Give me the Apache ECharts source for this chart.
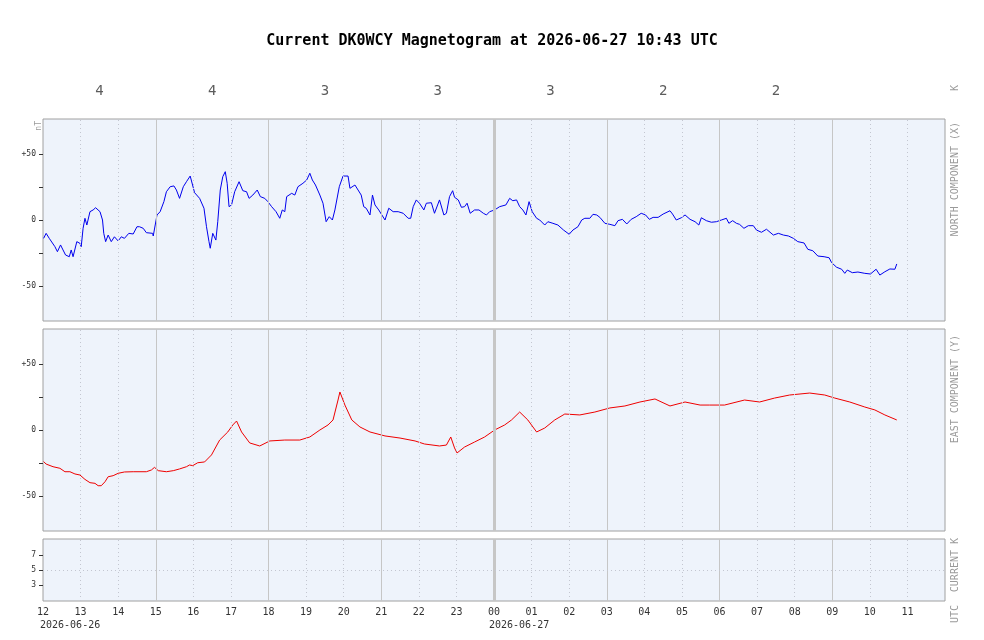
<!DOCTYPE html>
<html>
<head>
<meta charset="utf-8">
<title>DK0WCY Magnetogram</title>
<script src="https://cdn.jsdelivr.net/npm/echarts@6/dist/echarts.min.js"></script>
<style>
  html, body { margin: 0; padding: 0; background: #fff; }
  #chart { width: 984px; height: 640px; }
</style>
</head>
<body>
<div id="chart"></div>
<script>
// minutes after 2026-06-26 12:00 UTC
const northMin = [1,5,10,13,19,23,28,32,36,42,45,48,54,59,61,64,67,70,75,80,84,91,95,97,100,104,109,114,120,125,130,137,144,150,154,160,165,175,176,182,187,193,197,203,209,213,218,224,229,235,242,250,257,261,265,267,271,276,279,283,287,291,294,297,301,306,313,319,325,329,335,342,347,354,359,365,372,378,382,386,389,397,402,407,415,421,426,430,435,442,447,452,457,462,466,473,479,487,490,498,503,508,512,516,522,526,530,536,546,552,559,567,575,583,587,591,596,601,608,612,620,625,633,640,644,649,654,657,663,668,673,677,682,689,696,703,708,713,721,729,739,745,748,750,756,761,766,771,776,781,788,793,801,806,814,822,831,840,846,854,860,865,873,878,884,889,897,905,913,918,925,932,939,947,955,962,968,974,982,990,1001,1005,1011,1019,1025,1033,1041,1047,1051,1059,1067,1075,1083,1091,1095,1101,1107,1112,1119,1126,1134,1139,1147,1155,1166,1174,1182,1190,1198,1205,1215,1221,1229,1237,1247,1255,1259,1267,1275,1280,1284,1292,1301,1312,1321,1330,1336,1344,1352,1360,1363];
const northVal = [-13.9,-10.1,-13.9,-15.2,-20.2,-24.0,-18.9,-22.7,-26.5,-27.8,-22.7,-27.8,-16.4,-17.7,-20.2,-6.3,1.3,-3.8,6.3,7.6,9.3,6.3,0,-10.1,-16.4,-11.4,-16.4,-12.7,-15.9,-12.7,-13.9,-10.1,-10.6,-5.1,-5.1,-6.3,-9.6,-10.1,-12.1,3.8,6.3,13.9,21.4,25.2,25.8,22.7,16.4,25.2,29.0,33.3,20.7,16.4,8.9,-5.1,-16.4,-21.4,-10.1,-15.2,-1.3,22.7,32.8,36.6,27.8,10.1,11.4,21.4,29.0,22.2,21.4,16.4,18.9,22.7,17.7,16.4,13.9,10.1,6.3,1.3,7.6,6.3,17.7,20.2,18.9,25.2,27.8,30.3,35.4,30.3,26.5,18.9,12.7,-1.3,2.5,0,7.6,25.2,33.3,33.3,24.0,26.5,22.7,18.9,10.1,8.9,3.8,18.9,11.4,7.6,0,8.9,6.3,6.3,5.1,1.3,1.3,10.1,15.2,12.7,7.6,12.7,13.1,5.1,15.2,3.8,5.1,17.7,22.2,17.2,15.2,9.6,10.1,12.7,5.1,7.6,7.6,5.1,3.8,6.3,7.6,10.1,11.4,16.4,17.2,14.6,15.2,10.1,7.6,3.8,13.9,6.3,1.3,0,-3.8,-1.3,-2.5,-3.8,-7.6,-10.8,-7.6,-5.1,0,1.3,1.3,4.3,3.8,2.0,-2.5,-3.3,-4.3,-0.5,0.5,-3.0,0.5,2.5,5.1,3.8,0.5,2.0,2.0,4.5,7.0,4.5,0,1.7,3.8,0.5,-1.3,-3.8,1.7,-0.5,-1.7,-1.3,0,1.3,-2.5,-0.5,-2.5,-3.3,-6.3,-4.3,-4.3,-7.6,-9.3,-7.0,-11.4,-10.1,-11.4,-12.1,-13.9,-16.4,-17.4,-22.2,-23.3,-27.3,-27.8,-28.6,-32.3,-35.8,-37.3,-40.4,-37.9,-39.9,-39.4,-40.4,-40.9,-37.3,-41.7,-39.2,-37.1,-37.3,-33.3];

const eastMin = [1,5,16,27,35,43,51,59,67,75,83,88,93,99,104,112,120,130,144,165,173,178,184,197,208,218,229,234,239,247,258,269,282,295,303,309,317,330,346,362,386,410,426,442,455,463,471,474,482,493,506,522,546,570,594,609,633,644,651,657,661,673,689,705,721,737,748,761,774,788,801,817,833,857,881,905,929,953,977,1001,1025,1049,1064,1088,1120,1144,1168,1192,1224,1248,1264,1288,1312,1328,1344,1363];
const eastVal = [-23.9,-25.8,-27.8,-29.0,-31.6,-31.6,-33.3,-34.1,-37.4,-39.9,-40.4,-42.2,-42.2,-39.2,-35.4,-34.6,-32.8,-31.8,-31.6,-31.6,-30.3,-28.3,-30.8,-31.6,-30.8,-29.5,-27.8,-26.5,-27.0,-24.8,-24.2,-18.9,-7.6,-1.5,3.8,6.8,-1.5,-9.8,-12.1,-8.3,-7.6,-7.6,-5.3,0,3.8,7.6,22.7,28.8,18.9,7.6,2.3,-1.5,-4.5,-6.1,-8.3,-10.6,-12.1,-11.4,-5.3,-13.6,-17.4,-12.9,-9.1,-5.3,0,3.8,7.6,13.6,7.6,-1.5,1.5,7.6,12.1,11.4,13.6,16.7,18.2,21.2,23.5,18.2,21.2,18.9,18.9,18.9,22.7,21.2,24.2,26.5,28.0,26.5,24.2,21.2,17.4,15.2,11.4,7.6];

// K index per 3-hour block (block centre, minutes)
const kMin = [90, 270, 450, 630, 810, 990, 1170];
const kVal = [4, 4, 3, 3, 3, 2, 2];

// hour lines inside the plots (minutes)
const hourMarks = [60,120,180,240,300,360,420,480,540,600,660,720,780,840,900,960,1020,1080,1140,1200,1260,1320,1380];

const fontMono = '"DejaVu Sans Mono", "Liberation Mono", monospace';
const gridLeft = 43, gridWidth = 902;

function pairs(xs, ys) {
  return xs.map((x, i) => [x, ys[i]]);
}

function vLines() {
  return hourMarks.map(m => {
    let style;
    if (m === 720) style = { color: '#c6c6c6', width: 3, type: 'solid' };
    else if (m % 180 === 0) style = { color: '#c6c6c6', width: 1, type: 'solid' };
    else style = { color: '#c3c6d0', width: 1, type: [1, 3] };
    return { xAxis: m, lineStyle: style };
  });
}

function gridSeries(idx, extra) {
  return {
    type: 'line',
    xAxisIndex: idx,
    yAxisIndex: idx,
    data: [],
    silent: true,
    z: 1,
    markLine: {
      silent: true,
      symbol: ['none', 'none'],
      label: { show: false },
      animation: false,
      data: vLines().concat(extra || [])
    }
  };
}

function nTAxis(idx) {
  return {
    type: 'value',
    gridIndex: idx,
    min: -76.5,
    max: 76.5,
    axisLine: { show: false },
    splitLine: { show: false },
    axisTick: {
      show: true, length: 4, customValues: [-50, -25, 0, 25, 50],
      lineStyle: { color: '#333' }
    },
    axisLabel: {
      customValues: [-50, 0, 50],
      margin: 7,
      fontFamily: fontMono, fontSize: 8, color: '#333',
      formatter: v => (v > 0 ? '+' + v : String(v))
    }
  };
}

const hiddenX = idx => ({ type: 'value', gridIndex: idx, min: 0, max: 1440, show: false });

const sideText = (x, y, text) => ({
  type: 'text', x: x, y: y, rotation: Math.PI / 2,
  style: {
    text: text, fill: '#9a9a9a', font: '10px ' + fontMono,
    textAlign: 'right', textVerticalAlign: 'middle'
  }
});

const chart = echarts.init(document.getElementById('chart'));
const panelGrid = { left: gridLeft, width: gridWidth, show: true, backgroundColor: '#eef3fb', borderColor: '#a0a0a0', borderWidth: 1 };

chart.setOption({
  animation: false,
  title: {
    text: 'Current DK0WCY Magnetogram at 2026-06-27 10:43 UTC',
    left: 'center',
    top: 29,
    textStyle: { fontFamily: fontMono, fontSize: 15, fontWeight: 'bold', color: '#000' }
  },
  grid: [
    Object.assign({ top: 119, height: 202 }, panelGrid),
    Object.assign({ top: 329, height: 202 }, panelGrid),
    Object.assign({ top: 539, height: 62 }, panelGrid),
    { left: gridLeft, width: gridWidth, top: 81, height: 20, show: false }
  ],
  xAxis: [
    hiddenX(0),
    hiddenX(1),
    {
      type: 'value', gridIndex: 2, min: 0, max: 1440, interval: 60,
      axisLine: { show: false }, axisTick: { show: false }, splitLine: { show: false },
      axisLabel: {
        margin: 6, fontFamily: fontMono, fontSize: 10, color: '#333',
        formatter: v => (v >= 1440 ? '' : String((12 + v / 60) % 24).padStart(2, '0'))
      }
    },
    hiddenX(3)
  ],
  yAxis: [
    nTAxis(0),
    nTAxis(1),
    {
      type: 'value', gridIndex: 2, min: 0.9, max: 9.1,
      axisLine: { show: false }, splitLine: { show: false },
      axisTick: { show: true, length: 4, customValues: [3, 5, 7], lineStyle: { color: '#333' } },
      axisLabel: { customValues: [3, 5, 7], margin: 7, fontFamily: fontMono, fontSize: 8, color: '#333' }
    },
    { type: 'value', gridIndex: 3, min: 0, max: 1, show: false }
  ],
  series: [
    gridSeries(0),
    gridSeries(1),
    gridSeries(2, [{ yAxis: 5, lineStyle: { color: '#c3c6d0', width: 1, type: [1, 3] } }]),
    {
      name: 'North component (X)',
      type: 'line', xAxisIndex: 0, yAxisIndex: 0, z: 3,
      data: pairs(northMin, northVal),
      showSymbol: false,
      lineStyle: { color: '#0000ee', width: 1 }
    },
    {
      name: 'East component (Y)',
      type: 'line', xAxisIndex: 1, yAxisIndex: 1, z: 3,
      data: pairs(eastMin, eastVal),
      showSymbol: false,
      lineStyle: { color: '#ee0000', width: 1 }
    },
    {
      name: 'K',
      type: 'scatter', xAxisIndex: 3, yAxisIndex: 3,
      data: kMin.map((m, i) => [m, 0.5, kVal[i]]),
      symbolSize: 1,
      itemStyle: { color: 'rgba(0,0,0,0)' },
      label: {
        show: true, position: 'inside',
        formatter: p => String(p.value[2]),
        fontFamily: fontMono, fontSize: 14, color: '#333'
      }
    }
  ],
  graphic: [
    { type: 'text', x: 40, y: 620, style: { text: '2026-06-26', fill: '#333', font: '10px ' + fontMono } },
    { type: 'text', x: 489, y: 620, style: { text: '2026-06-27', fill: '#333', font: '10px ' + fontMono } },
    {
      type: 'text', x: 39, y: 121, rotation: Math.PI / 2,
      style: { text: 'nT', fill: '#9a9a9a', font: '8px ' + fontMono, textAlign: 'right', textVerticalAlign: 'middle' }
    },
    sideText(955, 85, 'K'),
    sideText(955, 122, 'NORTH COMPONENT (X)'),
    sideText(955, 335, 'EAST COMPONENT (Y)'),
    sideText(955, 538, 'CURRENT K'),
    sideText(955, 605, 'UTC')
  ]
});
</script>
</body>
</html>
